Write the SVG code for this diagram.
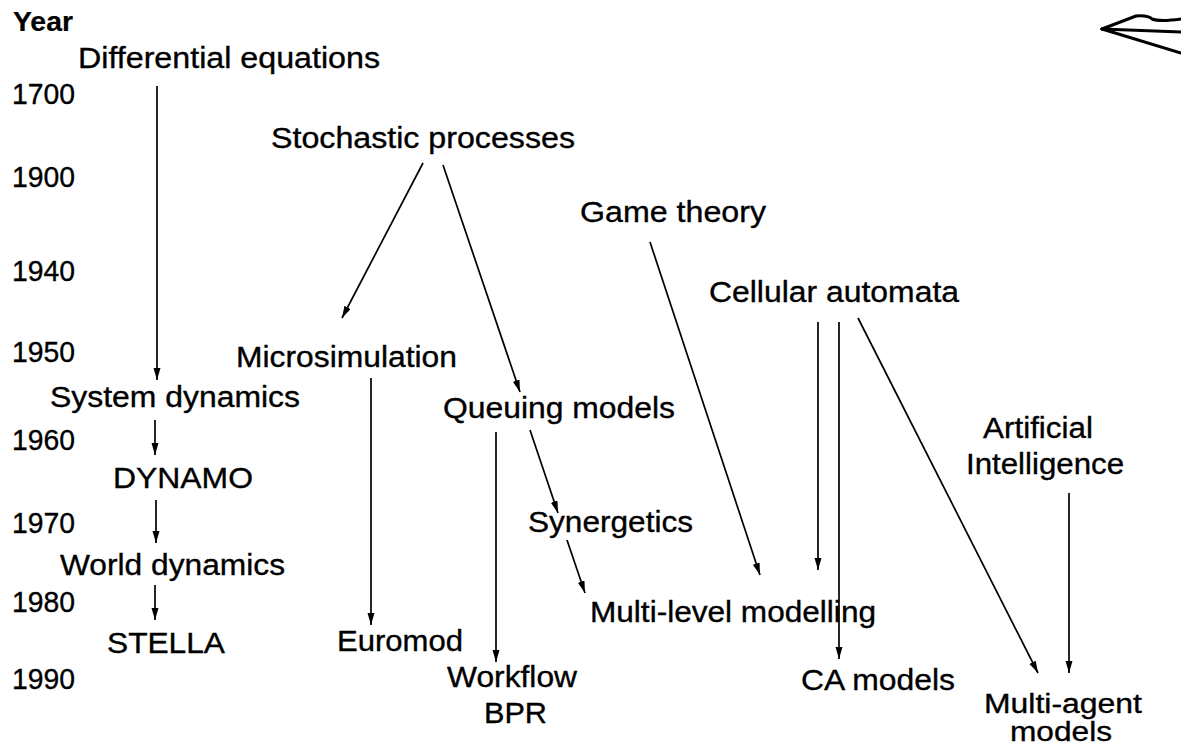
<svg xmlns="http://www.w3.org/2000/svg" width="1181" height="749" viewBox="0 0 1181 749">
<style>
  text { font-family: "Liberation Sans", Arial, Helvetica, sans-serif; font-size: 29px; fill: #000; stroke: #000; stroke-width: 0.35; }
  .hdr { font-weight: bold; font-size: 27px; stroke-width: 0.2; }
  .tight { font-size: 27px; }
  .edge { stroke: #000; stroke-width: 1.7; fill: none; marker-end: url(#ah); }
  .glyph { stroke: #000; stroke-width: 3; fill: none; stroke-linecap: round; stroke-linejoin: round; }
</style>
<defs>
  <marker id="ah" markerUnits="userSpaceOnUse" markerWidth="13" markerHeight="8" refX="12" refY="3.5" orient="auto">
    <path d="M0,0 L12,3.5 L0,7 z" fill="#000"/>
  </marker>
</defs>
<rect width="1181" height="749" fill="#fff"/>

<g id="axis">
  <text class="hdr" x="13" y="31" textLength="60" lengthAdjust="spacingAndGlyphs">Year</text>
  <text x="12" y="104" textLength="63" lengthAdjust="spacingAndGlyphs">1700</text>
  <text x="12" y="187" textLength="63" lengthAdjust="spacingAndGlyphs">1900</text>
  <text x="12" y="281" textLength="63" lengthAdjust="spacingAndGlyphs">1940</text>
  <text x="12" y="362" textLength="63" lengthAdjust="spacingAndGlyphs">1950</text>
  <text x="12" y="450" textLength="63" lengthAdjust="spacingAndGlyphs">1960</text>
  <text x="12" y="533" textLength="63" lengthAdjust="spacingAndGlyphs">1970</text>
  <text x="12" y="612" textLength="63" lengthAdjust="spacingAndGlyphs">1980</text>
  <text x="12" y="689" textLength="63" lengthAdjust="spacingAndGlyphs">1990</text>
</g>

<g id="corner-arrow">
  <path class="glyph" d="M1102,29 L1181,32"/>
  <path class="glyph" d="M1102,29 L1136,16 Q1148,15 1152,19 Q1160,22 1181,19"/>
  <path class="glyph" d="M1102,29 L1181,53"/>
</g>

<g id="connectors">
  <path class="edge" d="M157,86 L157,380"/>
  <path class="edge" d="M155,420 L155,455"/>
  <path class="edge" d="M156,500 L156,543"/>
  <path class="edge" d="M155,585 L155,620"/>
  <path class="edge" d="M423,163 L342,318"/>
  <path class="edge" d="M443,165 L520,392"/>
  <path class="edge" d="M530,430 L558,513"/>
  <path class="edge" d="M567,540 L585,593"/>
  <path class="edge" d="M371,378 L371,625"/>
  <path class="edge" d="M496,432 L496,662"/>
  <path class="edge" d="M650,242 L760,575"/>
  <path class="edge" d="M818,322 L818,570"/>
  <path class="edge" d="M839,322 L839,659"/>
  <path class="edge" d="M858,318 L1038,673"/>
  <path class="edge" d="M1069,493 L1069,673"/>
</g>

<g id="differential-equations"><text x="78" y="68" textLength="302" lengthAdjust="spacingAndGlyphs">Differential equations</text></g>
<g id="stochastic-processes"><text x="271" y="148" textLength="304" lengthAdjust="spacingAndGlyphs">Stochastic processes</text></g>
<g id="game-theory"><text x="580" y="222" textLength="186" lengthAdjust="spacingAndGlyphs">Game theory</text></g>
<g id="cellular-automata"><text x="709" y="302" textLength="250" lengthAdjust="spacingAndGlyphs">Cellular automata</text></g>
<g id="microsimulation"><text x="236" y="367" textLength="221" lengthAdjust="spacingAndGlyphs">Microsimulation</text></g>
<g id="system-dynamics"><text x="50" y="407" textLength="250" lengthAdjust="spacingAndGlyphs">System dynamics</text></g>
<g id="queuing-models"><text x="443" y="418" textLength="232" lengthAdjust="spacingAndGlyphs">Queuing models</text></g>
<g id="artificial-intelligence">
  <text x="983" y="438" textLength="110" lengthAdjust="spacingAndGlyphs">Artificial</text>
  <text x="966" y="474" textLength="158" lengthAdjust="spacingAndGlyphs">Intelligence</text>
</g>
<g id="dynamo"><text x="113" y="488" textLength="140" lengthAdjust="spacingAndGlyphs">DYNAMO</text></g>
<g id="synergetics"><text x="528" y="532" textLength="165" lengthAdjust="spacingAndGlyphs">Synergetics</text></g>
<g id="world-dynamics"><text x="60" y="575" textLength="225" lengthAdjust="spacingAndGlyphs">World dynamics</text></g>
<g id="multi-level-modelling"><text x="590" y="622" textLength="286" lengthAdjust="spacingAndGlyphs">Multi-level modelling</text></g>
<g id="stella"><text x="107" y="653" textLength="118" lengthAdjust="spacingAndGlyphs">STELLA</text></g>
<g id="euromod"><text x="337" y="651" textLength="126" lengthAdjust="spacingAndGlyphs">Euromod</text></g>
<g id="workflow-bpr">
  <text x="447" y="687" textLength="130" lengthAdjust="spacingAndGlyphs">Workflow</text>
  <text x="484" y="723" textLength="63" lengthAdjust="spacingAndGlyphs">BPR</text>
</g>
<g id="ca-models"><text x="801" y="690" textLength="154" lengthAdjust="spacingAndGlyphs">CA models</text></g>
<g id="multi-agent-models">
  <text class="tight" x="984" y="713" textLength="158" lengthAdjust="spacingAndGlyphs">Multi-agent</text>
  <text class="tight" x="1010" y="741" textLength="102" lengthAdjust="spacingAndGlyphs">models</text>
</g>
</svg>
